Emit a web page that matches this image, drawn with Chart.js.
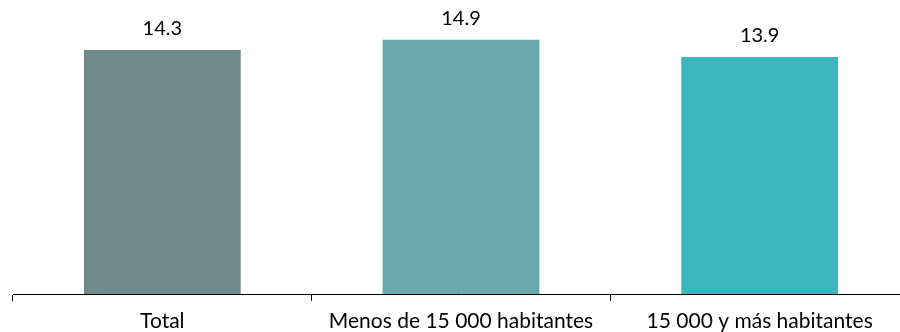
<!DOCTYPE html>
<html>
<head>
<meta charset="utf-8">
<script src="https://cdn.jsdelivr.net/npm/chart.js@4/dist/chart.umd.min.js"></script>
<style>
  html, body { margin: 0; padding: 0; background: #ffffff; overflow: hidden; width: 900px; height: 332px; }
  #wrap { width: 909px; height: 332px; }
</style>
</head>
<body>
<div id="wrap"><canvas id="c" width="909" height="332"></canvas></div>
<script>
const categories = ["Total", "Menos de 15 000 habitantes", "15 000 y más habitantes"];
const values = [14.3, 14.9, 13.9];
const barColors = ["#6e8a8b", "#6aa8af", "#3bb6bd"];

const FONT = "Lato, 'Open Sans', sans-serif";

// Writes each bar's value above it
const valueLabels = {
  id: "valueLabels",
  afterDatasetsDraw(chart) {
    const ctx = chart.ctx;
    const meta = chart.getDatasetMeta(0);
    ctx.save();
    ctx.font = "20px " + FONT;
    ctx.fillStyle = "#000000";
    ctx.textAlign = "center";
    ctx.textBaseline = "middle";
    meta.data.forEach((bar, i) => {
      ctx.fillText(values[i].toFixed(1), bar.x, bar.y - 21.5);
    });
    ctx.restore();
  }
};

new Chart(document.getElementById("c"), {
  type: "bar",
  data: {
    labels: categories,
    datasets: [{
      data: values,
      backgroundColor: barColors,
      borderWidth: 0,
      categoryPercentage: 1,
      barPercentage: 0.525
    }]
  },
  options: {
    responsive: false,
    animation: false,
    layout: { padding: { left: 13, top: 4, right: 0, bottom: 0 } },
    plugins: { legend: { display: false }, tooltip: { enabled: false } },
    scales: {
      y: { display: false, min: 0, max: 17 },
      x: {
        afterFit(scale) { scale.height = 38; },
        border: { display: true, color: "#000000", width: 1 },
        grid: { display: true, drawOnChartArea: false, drawTicks: true, tickLength: 7, color: "#000000", offset: true },
        ticks: { color: "#000000", font: { family: FONT, size: 21 }, padding: 8, maxRotation: 0, autoSkip: false }
      }
    }
  },
  plugins: [valueLabels]
});
</script>
</body>
</html>
